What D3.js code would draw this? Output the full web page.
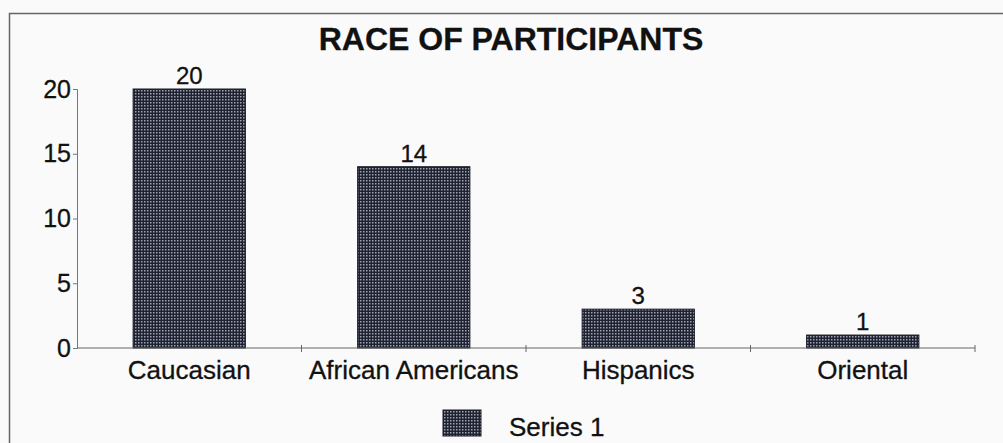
<!DOCTYPE html>
<html>
<head>
<meta charset="utf-8">
<script src="https://cdn.jsdelivr.net/npm/d3@7"></script>
<style>
  html, body { margin: 0; padding: 0; background: #fafafa; }
  svg { display: block; font-family: "Liberation Sans", Arial, sans-serif; }
  svg text { stroke: #111; stroke-width: 0.3px; }
</style>
</head>
<body>
<svg id="chart" width="1003" height="443"></svg>
<script>
// Participants by race
const categories = ["Caucasian", "African Americans", "Hispanics", "Oriental"];
const counts = [20, 14, 3, 1];
const yTicks = [0, 5, 10, 15, 20];
const seriesName = "Series 1";
const chartTitle = "RACE OF PARTICIPANTS";

const svg = d3.select("#chart");
const W = 1003, H = 443;

const margin = { left: 77, right: 28, top: 89, bottom: 95 };
const x = d3.scaleBand().domain(categories).range([margin.left, W - margin.right]).paddingInner(0.5).paddingOuter(0.25);
const y = d3.scaleLinear().domain([0, 20]).range([H - margin.bottom, margin.top]);

// stippled fill used by the bars and the legend key
const defs = svg.append("defs");
const pat = defs.append("pattern").attr("id", "stipple").attr("patternUnits", "userSpaceOnUse")
  .attr("width", 3).attr("height", 3);
pat.append("rect").attr("width", 3).attr("height", 3).attr("fill", "#1f2230");
pat.append("rect").attr("x", 0).attr("y", 0).attr("width", 1.5).attr("height", 1.5).attr("fill", "#9ea3b3");

// outer frame
svg.append("rect").attr("x", 9.5).attr("y", 13.5).attr("width", W + 10).attr("height", H + 10)
  .attr("fill", "none").attr("stroke", "#666").attr("stroke-width", 1.5);

// title
svg.append("text").attr("x", 511).attr("y", 50).attr("text-anchor", "middle")
  .attr("font-size", 32).attr("font-weight", "bold").attr("fill", "#111").text(chartTitle);

// bars
svg.append("g").selectAll("rect").data(counts).join("rect")
  .attr("x", (d, i) => x(categories[i]))
  .attr("y", d => y(d))
  .attr("width", x.bandwidth())
  .attr("height", d => y(0) - y(d))
  .attr("fill", "url(#stipple)")
  .attr("stroke", "#1a1d27").attr("stroke-width", 1);

// value labels
svg.append("g").selectAll("text").data(counts).join("text")
  .attr("x", (d, i) => x(categories[i]) + x.bandwidth() / 2)
  .attr("y", d => y(d) - 5)
  .attr("text-anchor", "middle").attr("font-size", 24).attr("fill", "#111")
  .text(d => d);

// y axis
const yAxis = svg.append("g").attr("transform", `translate(${margin.left},0)`)
  .call(d3.axisLeft(y).tickValues(yTicks).tickSize(4).tickPadding(2));
yAxis.select(".domain").attr("stroke", "#777");
yAxis.selectAll(".tick line").attr("stroke", "#777");
yAxis.selectAll(".tick text").attr("font-size", 25).attr("fill", "#111")
  .attr("font-family", "'Liberation Sans', Arial, sans-serif");

// x axis: line with ticks at category boundaries
const x0 = margin.left, x1 = W - margin.right;
const xAxis = svg.append("g");
xAxis.append("line").attr("x1", x0).attr("x2", x1).attr("y1", y(0)).attr("y2", y(0))
  .attr("stroke", "#666").attr("stroke-width", 1);
const step = x.step();
const bounds = categories.map(c => x(c) - x.paddingOuter() * step + step);
xAxis.selectAll("line.tk").data(bounds).join("line").attr("class", "tk")
  .attr("x1", d => d).attr("x2", d => d).attr("y1", y(0) - 3).attr("y2", y(0) + 4)
  .attr("stroke", "#666");
xAxis.selectAll("text").data(categories).join("text")
  .attr("x", d => x(d) + x.bandwidth() / 2)
  .attr("y", y(0) + 31)
  .attr("text-anchor", "middle").attr("font-size", 26).attr("fill", "#111")
  .text(d => d);

// legend
const lg = svg.append("g");
lg.append("rect").attr("x", 443).attr("y", 410).attr("width", 38).attr("height", 26)
  .attr("fill", "url(#stipple)").attr("stroke", "#1a1d27");
lg.append("text").attr("x", 509).attr("y", 436).attr("font-size", 26).attr("fill", "#111").text(seriesName);
</script>
</body>
</html>
